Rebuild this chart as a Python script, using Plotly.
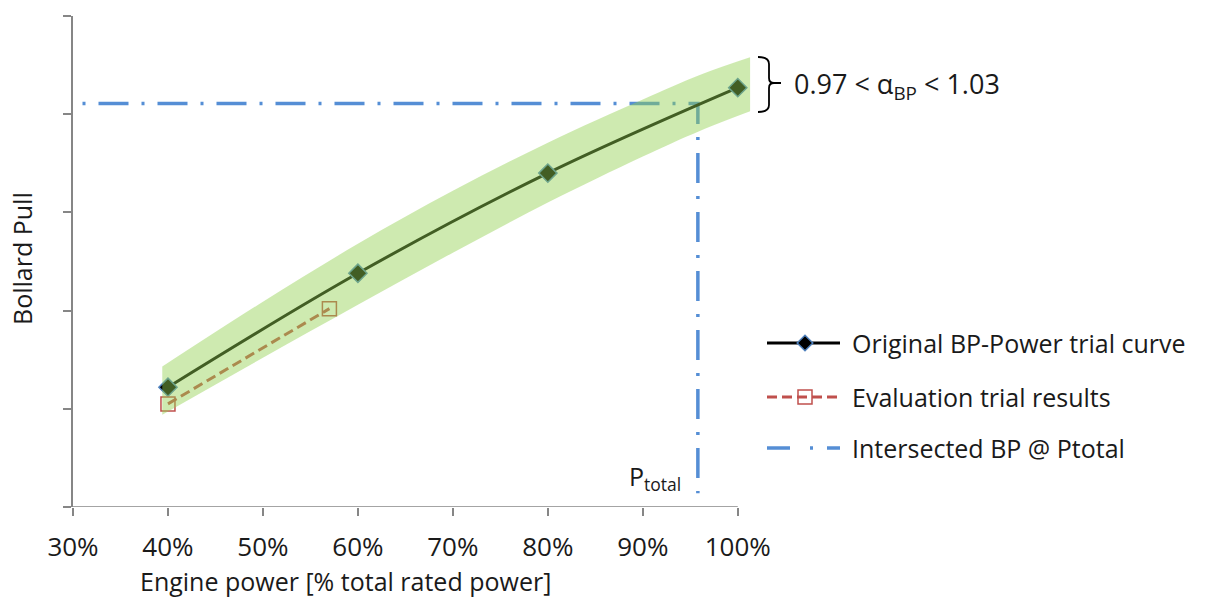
import plotly.graph_objects as go

# ---------------- data ----------------
power_pct = [40, 60, 80, 100]
bp_original = [1.22, 2.38, 3.40, 4.27]

eval_power = [40, 57]
eval_bp = [1.05, 2.02]

intersect_x = [31, 95.8, 95.8]
intersect_y = [4.11, 4.11, 0.14]

band_x = [39.4, 50, 60, 70, 80, 90, 96, 101.3]
band_upper = [1.43, 2.09, 2.68, 3.22, 3.71, 4.15, 4.40, 4.58]
band_lower = [0.94, 1.52, 2.06, 2.59, 3.10, 3.57, 3.83, 4.03]

x_ticks = [30, 40, 50, 60, 70, 80, 90, 100]
x_ticktext = ["30%", "40%", "50%", "60%", "70%", "80%", "90%", "100%"]
y_ticks = [0, 1, 2, 3, 4, 5]

legend_names = ["Original BP-Power trial curve", "Evaluation trial results",
                "Intersected BP @ Ptotal"]

# ---------------- style ----------------
FONT = "Open Sans"
AX = "#868686"
TXT = "#1a1a1a"
BLUE = "#558ED5"
RED = "#C0504D"
EDGE = "#4F81BD"
BAND = "rgba(146,208,80,0.45)"

W, H = 1205, 600
ML, MR, MT, MB = 73, 15, 16, 93
PW = W - ML - MR
PH = H - MT - MB

fig = go.Figure()

# intersect line
fig.add_trace(go.Scatter(x=intersect_x, y=intersect_y, mode="lines",
                         line=dict(color=BLUE, width=3.5, dash="3px,13px,30px,13px"),
                         showlegend=False, hoverinfo="skip"))
# original curve
fig.add_trace(go.Scatter(x=power_pct, y=bp_original, mode="lines+markers",
                         line=dict(color="black", width=3, shape="spline"),
                         marker=dict(symbol="diamond", size=14, color="black",
                                     line=dict(color=EDGE, width=1.5)),
                         showlegend=False))
# evaluation
fig.add_trace(go.Scatter(x=eval_power, y=eval_bp, mode="lines+markers",
                         line=dict(color=RED, width=3, dash="10px,5px"),
                         marker=dict(symbol="square-open", size=14, color=RED,
                                     line=dict(color=RED, width=1.5)),
                         showlegend=False))
# tolerance band (lower edge, then upper edge filled to it)
fig.add_trace(go.Scatter(x=band_x, y=band_lower, mode="lines",
                         line=dict(width=0, shape="spline"), showlegend=False,
                         hoverinfo="skip"))
fig.add_trace(go.Scatter(x=band_x, y=band_upper, mode="lines", fill="tonexty",
                         fillcolor=BAND, line=dict(width=0, shape="spline"),
                         showlegend=False, hoverinfo="skip"))

# ---------------- custom legend (pixel-like overlay axes) ----------------
rows = [343, 397, 448]
lx0, lx1, lmid = 767, 840, 805
fig.add_trace(go.Scatter(x=[lx0, lx1], y=[rows[0]] * 2, xaxis="x2", yaxis="y2",
                         mode="lines", line=dict(color="black", width=3),
                         showlegend=False, hoverinfo="skip"))
fig.add_trace(go.Scatter(x=[lmid], y=[rows[0]], xaxis="x2", yaxis="y2", mode="markers",
                         marker=dict(symbol="diamond", size=12, color="black",
                                     line=dict(color=EDGE, width=1.5)),
                         showlegend=False, hoverinfo="skip"))
fig.add_trace(go.Scatter(x=[lx0, lx1], y=[rows[1]] * 2, xaxis="x2", yaxis="y2",
                         mode="lines", line=dict(color=RED, width=3, dash="10px,5px"),
                         showlegend=False, hoverinfo="skip"))
fig.add_trace(go.Scatter(x=[lmid], y=[rows[1]], xaxis="x2", yaxis="y2", mode="markers",
                         marker=dict(symbol="square-open", size=14, color=RED,
                                     line=dict(color=RED, width=1.5)),
                         showlegend=False, hoverinfo="skip"))
fig.add_trace(go.Scatter(x=[lx0, lx1], y=[rows[2]] * 2, xaxis="x2", yaxis="y2",
                         mode="lines", line=dict(color=BLUE, width=3.5, dash="23px,20px,3px,14px"),
                         showlegend=False, hoverinfo="skip"))

annotations = []
for name, r in zip(legend_names, rows):
    annotations.append(dict(x=850, y=r, xref="x2", yref="y2", text=name, showarrow=False,
                            xanchor="left", yanchor="middle",
                            font=dict(family=FONT, size=25, color=TXT)))

annotations.append(dict(x=792, y=85, xref="x2", yref="y2",
                        text="0.97 &lt; α<sub>BP</sub> &lt; 1.03", showarrow=False,
                        xanchor="left", yanchor="middle",
                        font=dict(family=FONT, size=27, color=TXT)))
annotations.append(dict(x=88.3, y=0.30, xref="x", yref="y", text="P<sub>total</sub>",
                        showarrow=False, xanchor="left", yanchor="middle",
                        font=dict(family=FONT, size=25, color=TXT)))
annotations.append(dict(x=(345 - ML) / PW, y=(507 - 600) / PH, xref="paper", yref="paper",
                        text="Engine power [% total rated power]", showarrow=False,
                        xanchor="center", yanchor="bottom",
                        font=dict(family=FONT, size=25, color=TXT)))
annotations.append(dict(x=(22 - ML) / PW, y=(507 - 259) / PH, xref="paper", yref="paper",
                        text="Bollard Pull", showarrow=False, textangle=-90,
                        xanchor="center", yanchor="middle",
                        font=dict(family=FONT, size=25, color=TXT)))

shapes = [
    dict(type="line", xref="x", yref="y", x0=30, x1=100, y0=0, y1=0,
         line=dict(color=AX, width=1.5)),
    dict(type="path", xref="x2", yref="y2",
         path="M758,57 Q769,57 769,64 L769,78 Q769,83 774,83 L781,83 "
              "M774,83 Q769,83 769,88 L769,105 Q769,112 758,112",
         line=dict(color="black", width=1.8)),
]

fig.update_layout(
    width=W, height=H,
    margin=dict(l=ML, r=MR, t=MT, b=MB),
    paper_bgcolor="white", plot_bgcolor="white",
    showlegend=False,
    xaxis=dict(domain=[0, 679 / PW], range=[30, 101.5], tickvals=x_ticks,
               ticktext=x_ticktext, ticks="outside", ticklen=8, tickwidth=1.5,
               tickcolor=AX, showline=False, showgrid=False, zeroline=False,
               ticklabelstandoff=9, automargin=False,
               tickfont=dict(family=FONT, size=26, color=TXT)),
    yaxis=dict(domain=[0, 1], range=[0, 5], tickvals=y_ticks, showticklabels=False,
               ticks="outside", ticklen=8, tickwidth=1.5, tickcolor=AX,
               showline=True, linecolor=AX, linewidth=1.5, automargin=False,
               showgrid=False, zeroline=False),
    xaxis2=dict(domain=[(757 - ML) / PW, 1], range=[757, W - MR], visible=False,
                anchor="y2"),
    yaxis2=dict(domain=[0, 1], range=[507, 16], visible=False, anchor="x2"),
    annotations=annotations,
    shapes=shapes,
)

fig.write_html("out.html")
